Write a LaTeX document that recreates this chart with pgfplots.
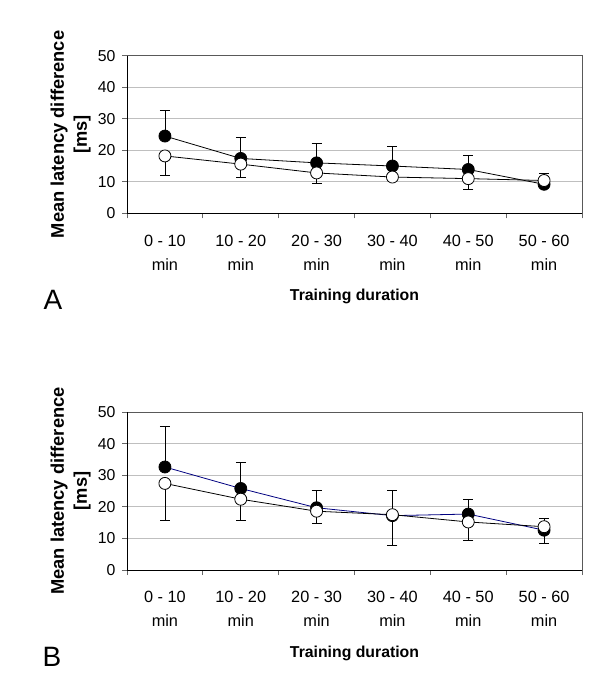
\documentclass[border=0pt]{standalone}
\usepackage{pgfplots}
\pgfplotsset{compat=1.18}
\usepackage{fontspec}
\setmainfont{Liberation Sans}
\definecolor{navyline}{RGB}{0,0,128}
\pgfplotsset{
 panel/.style={
  scale only axis, width=455bp, height=157.6bp,
  xmin=0.5, xmax=6.5, ymin=0, ymax=50,
  ytick={0,10,...,50},
  xtick={0.5,1.5,...,6.5},
  xticklabels={},
  extra x ticks={1,2,3,4,5,6},
  extra x tick labels={{0 - 10\\min},{10 - 20\\min},{20 - 30\\min},{30 - 40\\min},{40 - 50\\min},{50 - 60\\min}},
  extra x tick style={major tick length=0pt, grid=none,
    tick label style={align=center, font=\fontsize{16.3bp}{24bp}\selectfont, yshift=-18bp}},
  major tick length=5bp,
  tick align=outside,
  tick pos=left,
  tick style={black!60, line width=0.8pt},
  ymajorgrids, grid style={gray!50, line width=0.9pt},
  axis line style={black!65, line width=1pt},
  /pgf/number format/assume math mode=true,
  yticklabel style={font=\fontsize{15.8bp}{18bp}\selectfont, xshift=-3bp},
  ylabel={Mean latency difference\\{}[ms]},
  ylabel style={align=center, font=\bfseries\fontsize{18.3bp}{23bp}\selectfont,
    at={(axis description cs:-0.124,0.5)}, anchor=center},
  xlabel={Training duration},
  xlabel style={font=\bfseries\fontsize{15.8bp}{18bp}\selectfont,
    at={(axis description cs:0.5,0)}, anchor=center, yshift=-83bp},
 },
 filled/.style={line width=0.8pt, mark=*, mark size=6bp,
   mark options={solid, draw=black, fill=black, line width=0.8pt},
   error bars/.cd, y dir=plus, y explicit,
   error bar style={black, line width=0.8pt},
   error mark options={rotate=90, black, mark size=5bp, line width=0.8pt}},
 hollow/.style={black, line width=0.8pt, mark=*, mark size=6bp,
   mark options={solid, draw=black, fill=white, line width=0.8pt},
   error bars/.cd, y dir=minus, y explicit,
   error bar style={black, line width=0.8pt},
   error mark options={rotate=90, black, mark size=5bp, line width=0.8pt}},
}
\begin{document}
\begin{tikzpicture}
\useasboundingbox (0,0) rectangle (600bp,689bp);
% Panel A
\begin{axis}[panel, at={(127bp,475.7bp)}, anchor=south west]
\addplot[black, filled] coordinates {
 (1,24.5) +- (0,8.1)
 (2,17.4) +- (0,6.7)
 (3,16.0) +- (0,6.1)
 (4,15.0) +- (0,6.3)
 (5,13.9) +- (0,4.4)
 (6,9.2)  +- (0,3.6)
};
\addplot[hollow] coordinates {
 (1,18.2) +- (0,6.3)
 (2,15.6) +- (0,4.3)
 (3,12.8) +- (0,3.3)
 (4,11.5) +- (0,1.0)
 (5,11.0) +- (0,3.4)
 (6,10.4) +- (0,1.0)
};
\draw[black, line width=1pt] (rel axis cs:0,1) -- (rel axis cs:0,0) -- (rel axis cs:1,0);
\end{axis}
% Panel B
\begin{axis}[panel, height=158bp, at={(127bp,119bp)}, anchor=south west]
\addplot[navyline, filled] coordinates {
 (1,32.6) +- (0,12.9)
 (2,25.8) +- (0,8.4)
 (3,19.7) +- (0,5.5)
 (4,17.2) +- (0,8.0)
 (5,17.7) +- (0,4.6)
 (6,12.6) +- (0,3.6)
};
\addplot[hollow] coordinates {
 (1,27.4) +- (0,11.8)
 (2,22.4) +- (0,6.6)
 (3,18.6) +- (0,3.8)
 (4,17.5) +- (0,9.7)
 (5,15.2) +- (0,5.7)
 (6,13.7) +- (0,5.3)
};
\draw[black, line width=1pt] (rel axis cs:0,1) -- (rel axis cs:0,0) -- (rel axis cs:1,0);
\end{axis}
\node[font=\fontsize{28bp}{30bp}\selectfont] at (53bp,389bp) {A};
\node[font=\fontsize{28bp}{30bp}\selectfont] at (52bp,32bp) {B};
\end{tikzpicture}
\end{document}
